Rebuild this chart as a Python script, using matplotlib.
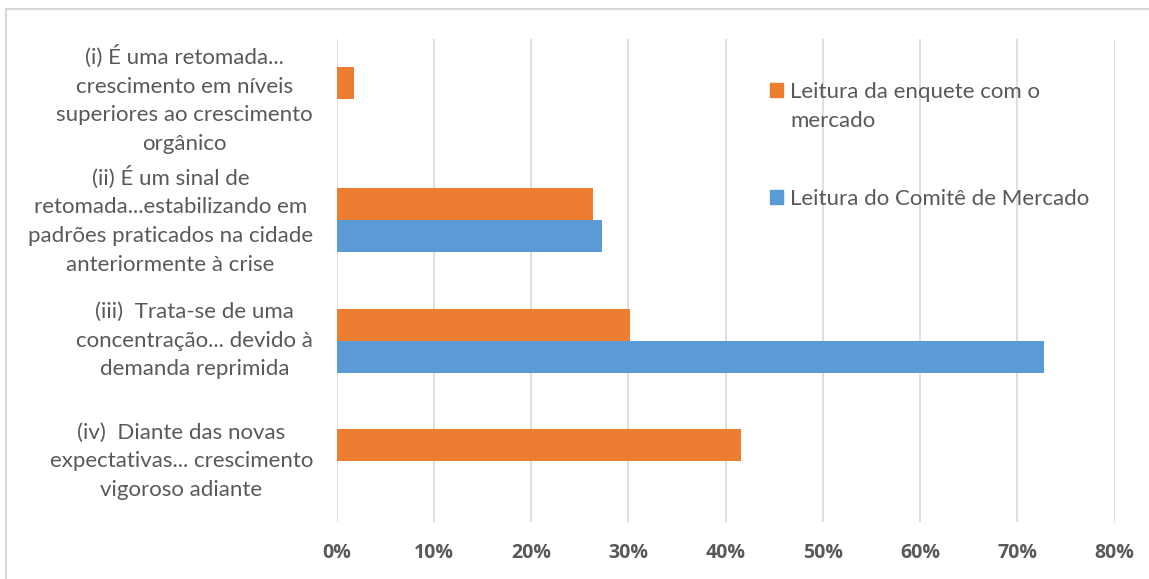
import matplotlib
matplotlib.use("Agg")
import matplotlib.pyplot as plt
from matplotlib.patches import Rectangle
from matplotlib.lines import Line2D
import numpy as np

# data (percent)
categories = [
    "(i) É uma retomada...\ncrescimento em níveis\nsuperiores ao crescimento\norgânico",
    "(ii) É um sinal de\nretomada...estabilizando em\npadrões praticados na cidade\nanteriormente à crise",
    "(iii)  Trata-se de uma\nconcentração... devido à\ndemanda reprimida",
    "(iv)  Diante das novas\nexpectativas... crescimento\nvigoroso adiante",
]
enquete = [1.8, 26.4, 30.2, 41.6]
comite = [0.0, 27.3, 72.7, 0.0]
x_ticks = [0, 10, 20, 30, 40, 50, 60, 70, 80]
x_labels = ["0%", "10%", "20%", "30%", "40%", "50%", "60%", "70%", "80%"]
series_names = ["Leitura da enquete com o\nmercado", "Leitura do Comitê de Mercado"]
colors = ["#ED7D31", "#5B9BD5"]

plt.rcParams['font.family'] = ['Lato', 'DejaVu Sans']
text_color = "#595959"
fs = 16

W, H = 1149, 579
fig = plt.figure(figsize=(W / 100, H / 100), dpi=100)
ax = fig.add_axes([336.5 / W, (H - 521.7) / H, (1114.5 - 336.5) / W, (521.7 - 39) / H])

y = np.arange(len(categories))
h = 0.265
ax.barh(y - h / 2, enquete, height=h, color=colors[0], linewidth=0)
ax.barh(y + h / 2, comite, height=h, color=colors[1], linewidth=0)

ax.set_xlim(0, 80)
ax.set_ylim(len(categories) - 0.5, -0.5)
ax.set_xticks(x_ticks, labels=x_labels, fontweight="bold", fontsize=14,
              family=["Open Sans", "DejaVu Sans"])
ax.grid(axis="x", color="#D9D9D9", linewidth=1.2)
ax.set_axisbelow(True)
for s in ax.spines.values():
    s.set_visible(False)

ax.set_yticks(y, labels=categories, ma="center", va="center", linespacing=1.55)
ax.tick_params(axis="y", length=0, pad=17, labelsize=fs, labelcolor=text_color)
ax.tick_params(axis="x", length=0, pad=15, labelcolor=text_color)

# legend drawn in figure pixels to keep the marker on the first text line
legend_rows = [90, 197]
for name, col, yc in zip(series_names, colors, legend_rows):
    fig.patches.append(Rectangle((770 / W, (H - yc - 7) / H), 13 / W, 14 / H,
                                 transform=fig.transFigure, color=col))
    fig.text(790 / W, (H - yc + 8) / H, name, va="top", ha="left", fontsize=fs,
             color=text_color, linespacing=1.55)

# chart area border (top and left visible)
fig.lines.append(Line2D([6 / W, 1], [(H - 9) / H] * 2, color="#D9D9D9", lw=1.5,
                        transform=fig.transFigure))
fig.lines.append(Line2D([6 / W] * 2, [0, (H - 9) / H], color="#D9D9D9", lw=1.5,
                        transform=fig.transFigure))

fig.savefig("out.png", dpi=100)
